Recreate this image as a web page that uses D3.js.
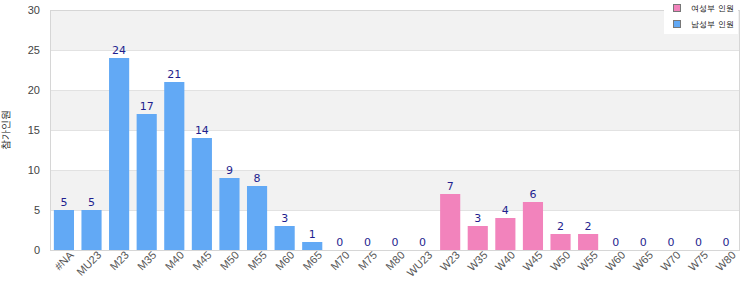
<!DOCTYPE html>
<html>
<head>
<meta charset="utf-8">
<script src="https://cdn.jsdelivr.net/npm/d3@7"></script>
<style>
  body { margin: 0; background: #fff; }
  svg { display: block; font-family: "DejaVu Sans", Verdana, sans-serif; }
</style>
</head>
<body>
<svg id="chart" width="750" height="300"></svg>
<script>
// categories and counts
const menCategories = ["#NA", "MU23", "M23", "M35", "M40", "M45", "M50", "M55", "M60", "M65", "M70", "M75", "M80"];
const menValues = [5, 5, 24, 17, 21, 14, 9, 8, 3, 1, 0, 0, 0];
const womenCategories = ["WU23", "W23", "W35", "W40", "W45", "W50", "W55", "W60", "W65", "W70", "W75", "W80"];
const womenValues = [0, 7, 3, 4, 6, 2, 2, 0, 0, 0, 0, 0];
const yTicks = [0, 5, 10, 15, 20, 25, 30];
const legendLabels = ["여성부 인원", "남성부 인원"];
const yTitle = "참가인원";

const colors = { men: "#62a9f5", women: "#f283bc", label: "#1f1f8f", tick: "#444", grid: "#e2e2e2", band: "#f2f2f2", border: "#d6d6d6" };

const data = menCategories.map((c, i) => ({ cat: c, value: menValues[i], group: "men" }))
  .concat(womenCategories.map((c, i) => ({ cat: c, value: womenValues[i], group: "women" })));

const margin = { top: 10, right: 10, bottom: 50, left: 50 };
const width = 750, height = 300;
const svg = d3.select("#chart");
const plot = svg.append("g").attr("transform", `translate(${margin.left},${margin.top})`);
const w = width - margin.left - margin.right;
const h = height - margin.top - margin.bottom;

const x = d3.scaleBand().domain(data.map(d => d.cat)).range([0, w]).paddingInner(0.27).paddingOuter(0.14);
const y = d3.scaleLinear().domain([0, 30]).range([h, 0]);

// alternating bands
const bands = d3.pairs(yTicks).filter((p, i) => i % 2 == 1);
plot.append("g").selectAll("rect")
  .data(bands)
  .join("rect")
  .attr("x", 0)
  .attr("width", w)
  .attr("y", d => y(d[1]))
  .attr("height", d => y(d[0]) - y(d[1]))
  .attr("fill", colors.band);

// grid
plot.append("g").selectAll("line")
  .data(yTicks.slice(1, -1))
  .join("line")
  .attr("x1", 0).attr("x2", w)
  .attr("y1", d => y(d) + 0.5).attr("y2", d => y(d) + 0.5)
  .attr("stroke", colors.grid);

// border
plot.append("rect")
  .attr("x", 0.5).attr("y", 0.5)
  .attr("width", w - 1).attr("height", h)
  .attr("fill", "none")
  .attr("stroke", colors.border);

// bars
plot.append("g").selectAll("rect")
  .data(data)
  .join("rect")
  .attr("x", d => x(d.cat))
  .attr("width", x.bandwidth())
  .attr("y", d => y(d.value))
  .attr("height", d => y(0) - y(d.value))
  .attr("fill", d => colors[d.group]);

// value labels
plot.append("g").selectAll("text")
  .data(data)
  .join("text")
  .attr("x", d => x(d.cat) + x.bandwidth() / 2)
  .attr("y", d => y(d.value) - 4)
  .attr("text-anchor", "middle")
  .attr("font-size", 11)
  .attr("fill", colors.label)
  .text(d => d.value);

// y axis
const yAxis = plot.append("g")
  .call(d3.axisLeft(y).tickValues(yTicks).tickSize(0).tickPadding(10));
yAxis.select(".domain").remove();
yAxis.selectAll("text").attr("font-size", 11).attr("fill", colors.tick).attr("font-family", null);

// x axis
const xAxis = plot.append("g")
  .attr("transform", `translate(0,${h})`)
  .call(d3.axisBottom(x).tickSize(0).tickPadding(6));
xAxis.select(".domain").remove();
xAxis.selectAll("text")
  .attr("font-size", 11)
  .attr("font-family", null)
  .attr("fill", "#555")
  .attr("text-anchor", "end")
  .attr("dx", "0.3em")
  .attr("dy", "0.5em")
  .attr("transform", "rotate(-45)");

// y title
svg.append("text")
  .attr("transform", `translate(6,${margin.top + h / 2}) rotate(-90)`)
  .attr("text-anchor", "middle")
  .attr("dominant-baseline", "middle")
  .attr("font-size", 10)
  .attr("fill", "#222")
  .text(yTitle);

// legend
const legend = svg.append("g").attr("transform", "translate(664,0)");
legend.append("rect").attr("width", 74).attr("height", 34).attr("fill", "#fff");
const legendItems = legend.selectAll("g")
  .data(legendLabels)
  .join("g")
  .attr("transform", (d, i) => `translate(9,${4 + i * 16})`);
legendItems.append("rect")
  .attr("x", 0.5).attr("y", 0.5)
  .attr("width", 7).attr("height", 7)
  .attr("fill", (d, i) => i == 0 ? colors.women : colors.men)
  .attr("stroke", "#777");
legendItems.append("text")
  .attr("x", 18).attr("y", 4)
  .attr("dominant-baseline", "middle")
  .attr("font-size", 8)
  .attr("fill", "#111")
  .text(d => d);
</script>
</body>
</html>
